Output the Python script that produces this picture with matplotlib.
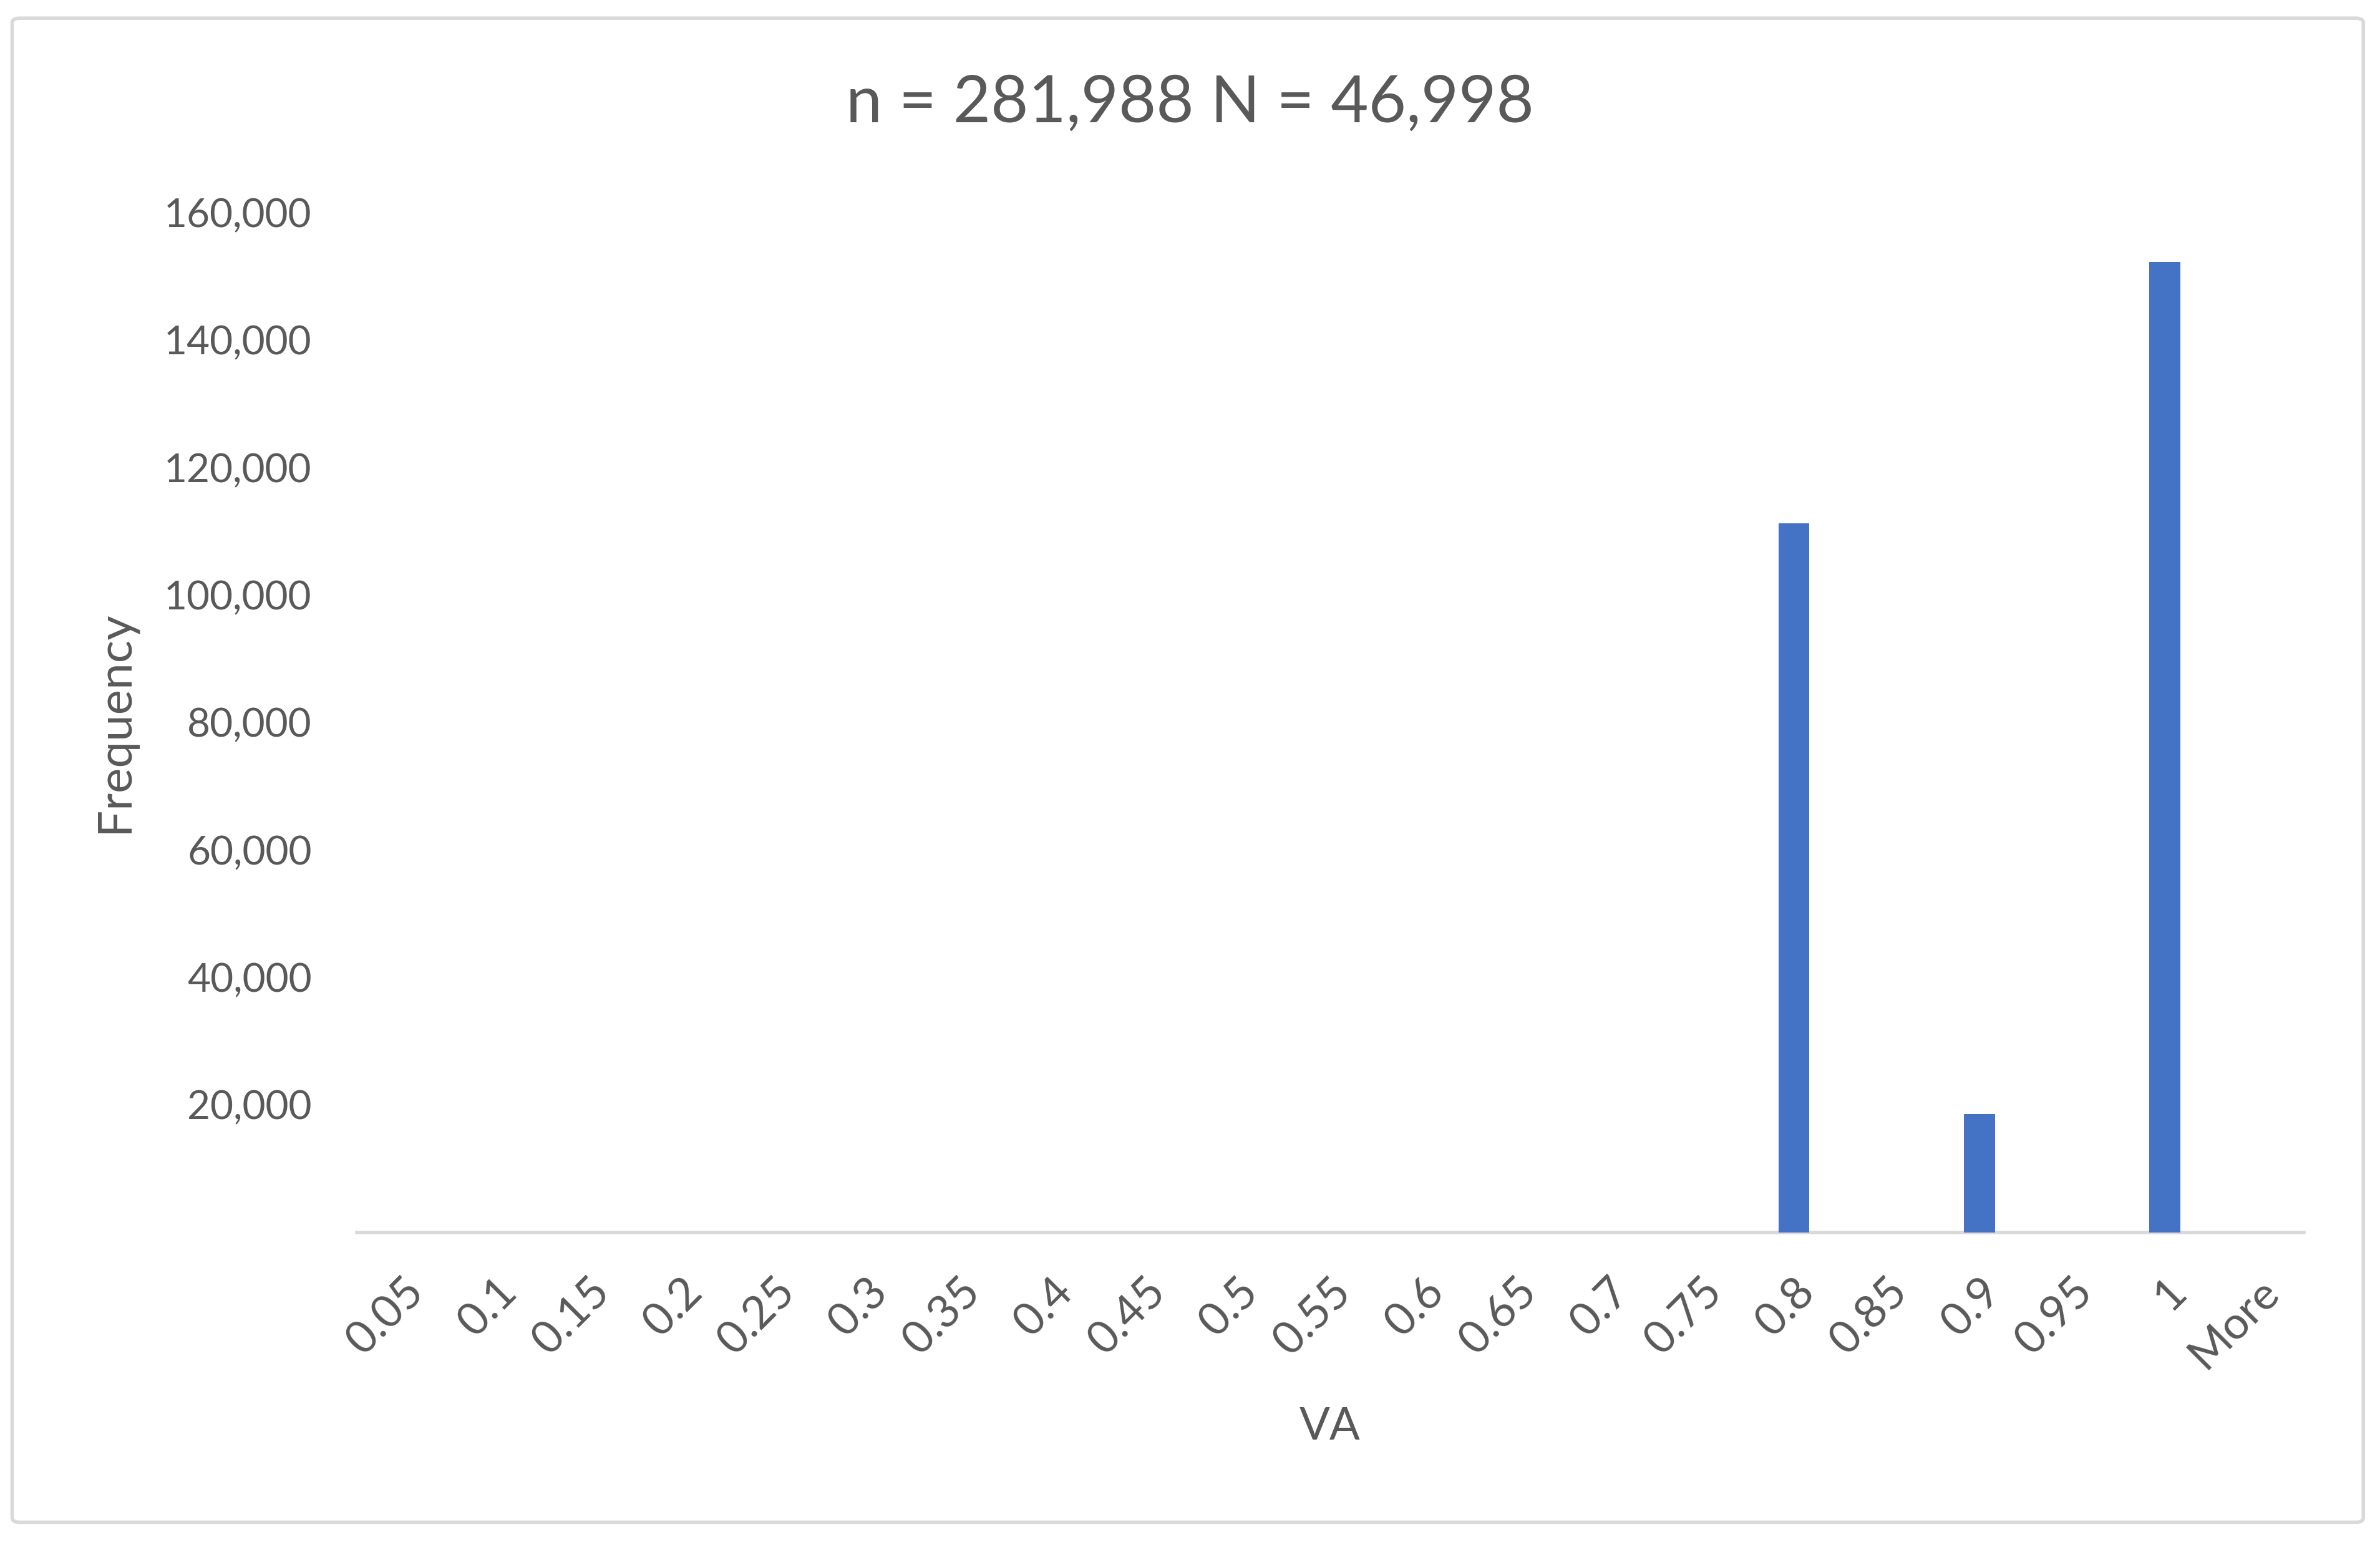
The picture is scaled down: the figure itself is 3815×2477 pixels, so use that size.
import matplotlib
matplotlib.use('Agg')
import matplotlib.pyplot as plt
from matplotlib.patches import FancyBboxPatch
from matplotlib.ticker import FuncFormatter

bins = ['0.05', '0.1', '0.15', '0.2', '0.25', '0.3', '0.35', '0.4', '0.45', '0.5',
        '0.55', '0.6', '0.65', '0.7', '0.75', '0.8', '0.85', '0.9', '0.95', '1', 'More']
freq = [0, 0, 0, 0, 0, 0, 0, 0, 0, 0,
        0, 0, 0, 0, 0, 111200, 0, 18588, 0, 152200, 0]
y_ticks = [20000, 40000, 60000, 80000, 100000, 120000, 140000, 160000]

title = 'n = 281,988 N = 46,998'
bar_color = '#4472C4'
text_color = '#595959'
line_color = '#D9D9D9'

plt.rcParams['font.family'] = ['Lato', 'DejaVu Sans']

fig = plt.figure(figsize=(38.15, 24.77), dpi=100)
ax = fig.add_axes([0.1499, 0.2024, 0.968 - 0.1499, 0.8625 - 0.2024])

x = range(len(bins))
ax.bar(x, freq, width=1 / 3, color=bar_color, zorder=3)

ax.set_xlim(-0.5, len(bins) - 0.5)
ax.set_ylim(0, 160000)
ax.set_yticks(y_ticks)
ax.yaxis.set_major_formatter(FuncFormatter(lambda v, p: f'{int(v):,}'))
ax.set_xticks(list(x))
ax.set_xticklabels(bins, rotation=45, ha='right', rotation_mode='anchor')

for s in ['top', 'right', 'left']:
    ax.spines[s].set_visible(False)
ax.spines['bottom'].set_color(line_color)
ax.spines['bottom'].set_linewidth(4)

ax.tick_params(axis='both', length=0, labelcolor=text_color)
ax.tick_params(axis='y', labelsize=46, pad=52)
ax.tick_params(axis='x', labelsize=52, pad=44)

fig.text(0.5, 0.933, title, ha='center', va='center', fontsize=75, color=text_color)
fig.text(0.048, 0.533, 'Frequency', ha='center', va='center', rotation=90,
         fontsize=55, color=text_color)
fig.text(0.5587, 0.0766, 'VA', ha='center', va='center', fontsize=52, color=text_color)

# chart border
x0, y0 = 8 / 1568, 1 - 1003 / 1018
x1, y1 = 1557 / 1568, 1 - 12 / 1018
border = FancyBboxPatch((x0, y0), x1 - x0, y1 - y0, boxstyle='round,pad=0,rounding_size=0.003',
                        transform=fig.transFigure, fill=False, edgecolor=line_color, linewidth=4)
fig.patches.append(border)

fig.savefig('out.png', dpi=100, facecolor='white')
